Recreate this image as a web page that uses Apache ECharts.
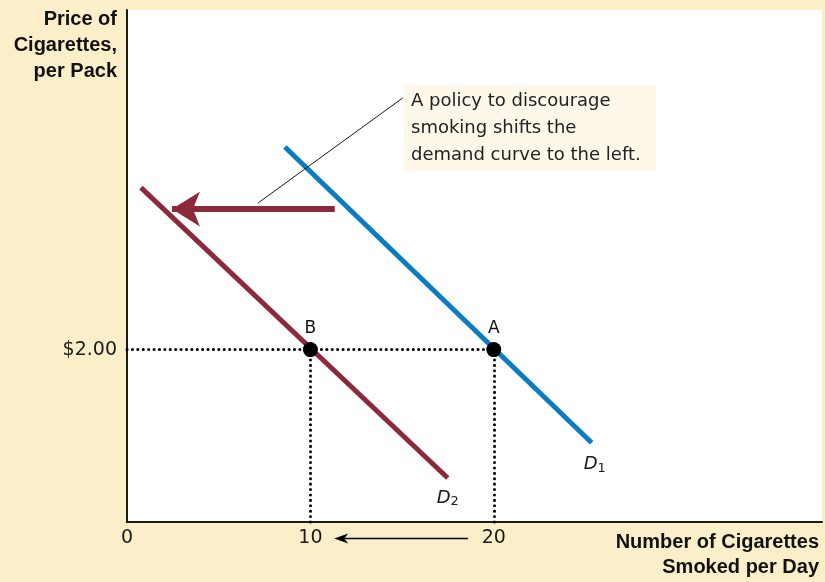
<!DOCTYPE html>
<html>
<head>
<meta charset="utf-8">
<script src="https://cdn.jsdelivr.net/npm/echarts@6/dist/echarts.min.js"></script>
<style>
  html, body { margin: 0; padding: 0; background: #fbefca; }
  #chart { width: 825px; height: 582px; }
</style>
</head>
<body>
<div id="chart"></div>
<script>
// demand curves: [quantity, price]
const demand1 = [[8.61, 4.35], [25.34, 0.92]]
const demand2 = [[0.76, 3.88], [17.49, 0.51]]
const equilibrium = [[20, 2, 'A'], [10, 2, 'B']]
const shiftArrow = [[11.33, 3.63], [2.45, 3.63]]
const leader = [[7.14, 3.70], [15.04, 4.92]]
const qtyArrow = [[18.6, -0.19], [11.3, -0.19]]
const xTicks = [0, 10, 20]
const yTicks = [2]
const priceLabel = '$2.00'

const dark = '#1a1a1a'
const red = '#8c2a3c'
const blue = '#0a7cc2'
const font = '"DejaVu Sans", sans-serif'
const boldFont = '"Liberation Sans", Arial, sans-serif'

const chart = echarts.init(document.getElementById('chart'))

const option = {
  backgroundColor: '#fbefca',
  animation: false,
  grid: { left: 127, right: 3, top: 10, bottom: 60, show: true, backgroundColor: '#fff', borderWidth: 0 },
  xAxis: {
    type: 'value', min: 0, max: 37.9, interval: 10,
    axisLine: { show: true, lineStyle: { color: dark, width: 2 } },
    axisTick: { show: false },
    splitLine: { show: false },
    axisLabel: {
      margin: 7, fontSize: 19, color: dark, fontFamily: font, showMaxLabel: false,
      formatter: v => xTicks.includes(v) ? String(v) : ''
    }
  },
  yAxis: {
    type: 'value', min: 0, max: 5.94, interval: 2,
    axisLine: { show: true, lineStyle: { color: dark, width: 2 } },
    axisTick: { show: false },
    splitLine: { show: false },
    axisLabel: {
      margin: 10, fontSize: 19, color: dark, fontFamily: font,
      formatter: v => yTicks.includes(v) ? priceLabel : ''
    }
  },
  series: [
    {
      // dotted guides
      type: 'line', data: [], silent: true,
      markLine: {
        silent: true, symbol: 'none', label: { show: false },
        lineStyle: { type: [0.1, 5.3], color: '#000', width: 3, cap: 'round' },
        data: [
          [{ coord: [0, 2] }, { coord: [20, 2] }],
          [{ coord: [10, 0] }, { coord: [10, 2] }],
          [{ coord: [20, 0] }, { coord: [20, 2] }]
        ]
      }
    },
    {
      type: 'line', data: demand1, symbol: 'none',
      lineStyle: { color: blue, width: 5 },
      endLabel: {
        show: true, offset: [-16, 22], fontFamily: font, color: dark,
        formatter: '{d|D}{s|1}',
        rich: { d: { fontSize: 18, fontStyle: 'italic' }, s: { fontSize: 13, padding: [8, 0, 0, 0] } }
      }
    },
    {
      type: 'line', data: demand2, symbol: 'none',
      lineStyle: { color: red, width: 5 },
      endLabel: {
        show: true, offset: [-19, 20], fontFamily: font, color: dark,
        formatter: '{d|D}{s|2}',
        rich: { d: { fontSize: 18, fontStyle: 'italic' }, s: { fontSize: 13, padding: [8, 0, 0, 0] } }
      }
    },
    {
      type: 'line', data: [], silent: true,
      markLine: {
        silent: true, label: { show: false },
        data: [
          [{ coord: shiftArrow[0], symbol: 'none' },
           { coord: shiftArrow[1], symbol: 'arrow', symbolSize: [26, 28],
             lineStyle: { color: red, width: 6, type: 'solid' } }],
          [{ coord: leader[0], symbol: 'none' },
           { coord: leader[1], symbol: 'none', lineStyle: { color: dark, width: 1, type: 'solid' } }]
        ]
      }
    },
    {
      type: 'scatter', data: equilibrium, symbolSize: 15, z: 10,
      itemStyle: { color: '#000', opacity: 1 },
      label: {
        show: true, position: 'top', distance: 5, fontSize: 17, color: '#111', fontFamily: font,
        formatter: p => p.data[2]
      }
    }
  ]
}

chart.setOption(option)

// arrow under the x axis, placed through the axis scales
const p0 = chart.convertToPixel({ gridIndex: 0 }, qtyArrow[0])
const p1 = chart.convertToPixel({ gridIndex: 0 }, qtyArrow[1])

chart.setOption({
  graphic: [
    {
      type: 'text', x: 117, y: 6,
      style: {
        text: 'Price of\nCigarettes,\nper Pack', align: 'right', textAlign: 'right',
        font: 'bold 20px ' + boldFont, lineHeight: 26, fill: '#111'
      }
    },
    {
      type: 'text', x: 819, y: 530,
      style: {
        text: 'Number of Cigarettes\nSmoked per Day', align: 'right', textAlign: 'right',
        font: 'bold 20px ' + boldFont, lineHeight: 25, fill: '#111'
      }
    },
    {
      type: 'rect', left: 404, top: 85, shape: { width: 252, height: 86 },
      style: { fill: '#fdf8ea' }
    },
    {
      type: 'text', left: 411, top: 88,
      style: {
        text: 'A policy to discourage\nsmoking shifts the\ndemand curve to the left.',
        font: '18px ' + font, lineHeight: 27, fill: '#222'
      }
    },
    {
      type: 'line',
      shape: { x1: p0[0], y1: p0[1], x2: p1[0] + 6, y2: p1[1] },
      style: { stroke: '#000', lineWidth: 1.5 }
    },
    {
      type: 'polygon',
      shape: { points: [[p1[0], p1[1]], [p1[0] + 14, p1[1] - 5], [p1[0] + 10, p1[1]], [p1[0] + 14, p1[1] + 5]] },
      style: { fill: '#000' }
    }
  ]
})
</script>
</body>
</html>
